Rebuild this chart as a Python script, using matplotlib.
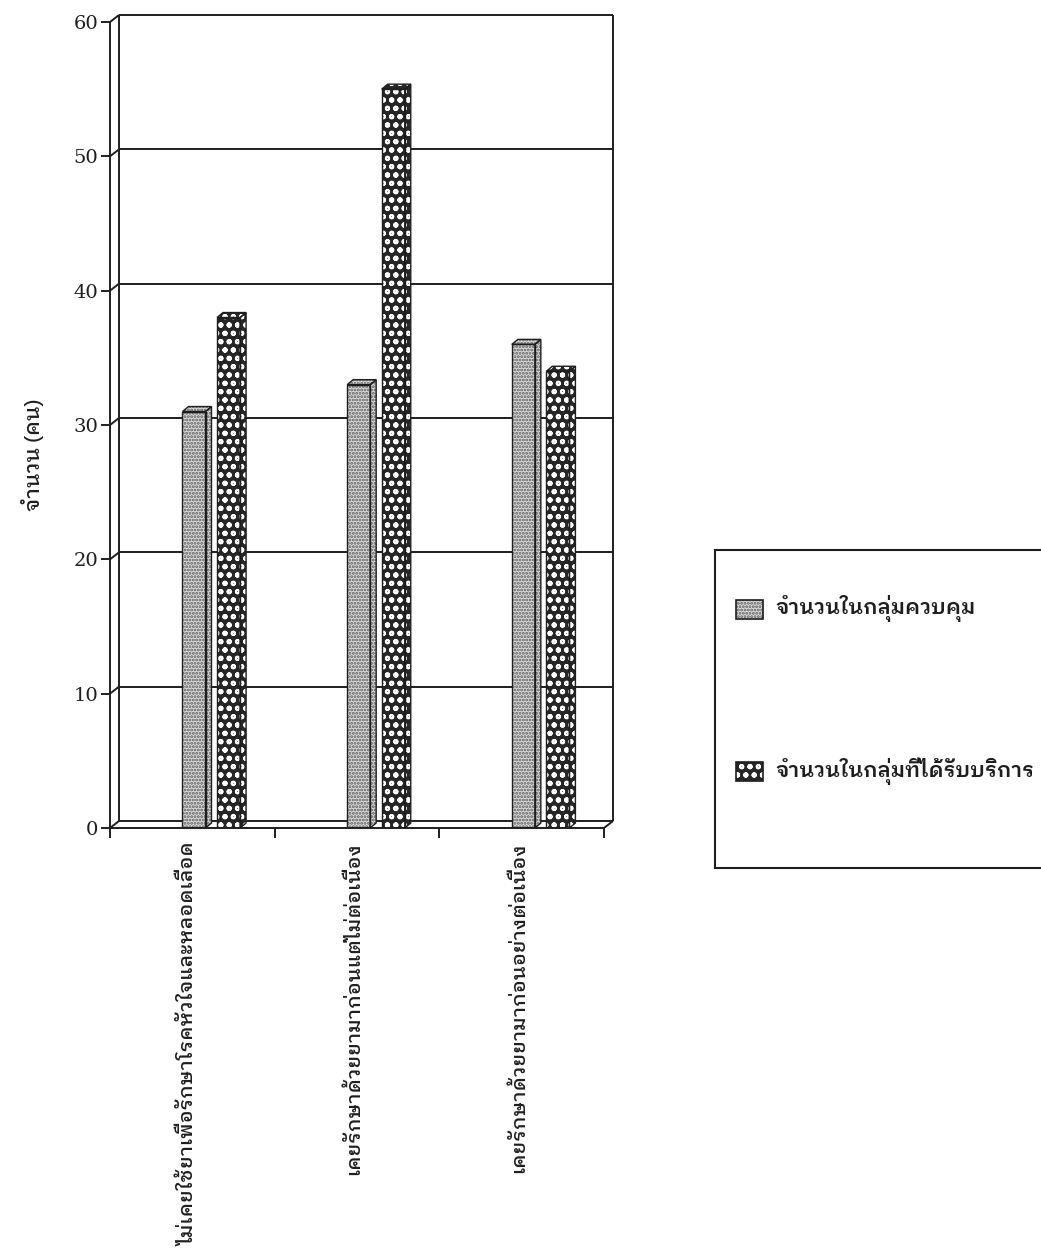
import matplotlib
matplotlib.use("Agg")
import matplotlib.pyplot as plt
from matplotlib.patches import Polygon, Rectangle

# ข้อมูล
categories = ["ไม่เคยใช้ยาเพื่อรักษาโรคหัวใจและหลอดเลือด",
              "เคยรักษาด้วยยามาก่อนแต่ไม่ต่อเนื่อง",
              "เคยรักษาด้วยยามาก่อนอย่างต่อเนื่อง"]
control = [31, 33, 36]
treated = [38, 55, 34]
series_names = ["จำนวนในกลุ่มควบคุม", "จำนวนในกลุ่มที่ได้รับบริการ"]
yticks = [0, 10, 20, 30, 40, 50, 60]
ylabel = "จำนวน (คน)"

thai = ["IBM Plex Sans Thai Looped", "DejaVu Sans"]
ink = "#1e1e1e"
plt.rcParams["hatch.linewidth"] = 1.4

W, H = 1041, 1252
fig = plt.figure(figsize=(W / 100, H / 100), dpi=100)
fig.patch.set_facecolor("white")

# พิกัดกรอบกราฟ (พิกเซล)
x0_px, x1_px = 110, 620
y0_px, y1_px = 828, 10
sx = (604 - 110) / 3.0           # px ต่อหนึ่งกลุ่ม
sy = (828 - 22) / 60.0           # px ต่อหนึ่งคน
ax = fig.add_axes([x0_px / W, 1 - y0_px / H, (x1_px - x0_px) / W, (y0_px - y1_px) / H])
ax.set_xlim(0, (x1_px - x0_px) / sx)
ax.set_ylim(0, (y0_px - y1_px) / sy)
ax.patch.set_visible(False)

# ความลึกของผนังหลังและของแท่ง
wdx, wdy = 9 / sx, 7 / sy
bdx, bdy = 6 / sx, 5 / sy
ncat = len(categories)
ymax = yticks[-1]
lw = 1.4

def seg(xs, ys, z=1):
    ax.plot(xs, ys, color=ink, lw=lw, solid_capstyle="butt", zorder=z, clip_on=False)

# ผนังหลังและเส้นกริด
seg([wdx, wdx], [wdy, ymax + wdy])
seg([ncat + wdx, ncat + wdx], [wdy, ymax + wdy])
seg([wdx, ncat + wdx], [ymax + wdy, ymax + wdy])
seg([wdx, ncat + wdx], [wdy, wdy])
seg([ncat, ncat + wdx], [0, wdy])
for v in yticks:
    seg([0, wdx], [v, v + wdy])
    if 0 < v < ymax:
        seg([wdx, ncat + wdx], [v + wdy, v + wdy])

# แกนหน้า
for s in ["top", "right"]:
    ax.spines[s].set_visible(False)
ax.spines["left"].set_bounds(0, ymax)
ax.spines["bottom"].set_bounds(0, ncat)
for s in ["left", "bottom"]:
    ax.spines[s].set_linewidth(lw)
    ax.spines[s].set_color(ink)
    ax.spines[s].set_zorder(6)

ax.set_yticks(yticks)
ax.set_yticklabels([str(v) for v in yticks], family="DejaVu Serif", fontsize=14, color=ink)
ax.tick_params(axis="y", direction="out", length=6.5, width=lw, color=ink, pad=2)
ax.set_xticks(range(ncat + 1))
ax.set_xticklabels([])
ax.tick_params(axis="x", which="major", direction="out", length=7, width=lw, color=ink)
ax.set_xticks([i + 0.48 for i in range(ncat)], categories, minor=True)
ax.tick_params(axis="x", which="minor", length=0, pad=10.5)
for t in ax.get_xticklabels(minor=True):
    t.set_rotation(90)
    t.set_va("top")
    t.set_family(thai)
    t.set_fontsize(14.5)
    t.set_weight("medium")
    t.set_color(ink)

ax.set_ylabel(ylabel, family=thai, fontsize=15, weight="medium", color=ink)
ax.yaxis.set_label_coords(-66 / (x1_px - x0_px), (828 - 455) / (y0_px - y1_px))

# ลวดลายของแต่ละชุดข้อมูล
styles = [
    dict(fc="#dcdcdc", hatch=".....", hc="#5a5a5a"),
    dict(fc="#262626", hatch="oo", hc="white"),
]
bw = 0.14
offsets = [0.51, 0.72]

def bar3d(x, v, st):
    xl, xr = x - bw / 2, x + bw / 2
    top = [(xl, v), (xl + bdx, v + bdy), (xr + bdx, v + bdy), (xr, v)]
    side = [(xr, 0), (xr + bdx, bdy), (xr + bdx, v + bdy), (xr, v)]
    for pts in (side, top):
        ax.add_patch(Polygon(pts, closed=True, fc=st["fc"], ec=st["hc"], hatch=st["hatch"],
                             lw=0, zorder=4, clip_on=False))
        ax.add_patch(Polygon(pts, closed=True, fill=False, ec=ink, lw=1.0, zorder=5, clip_on=False))

for vals, off, st in zip([control, treated], offsets, styles):
    xs = [i + off for i in range(ncat)]
    ax.bar(xs, vals, width=bw, color=st["fc"], edgecolor=st["hc"], hatch=st["hatch"],
           linewidth=0, zorder=4)
    ax.bar(xs, vals, width=bw, fill=False, edgecolor=ink, linewidth=1.0, zorder=5)
    for x, v in zip(xs, vals):
        bar3d(x, v, st)

# คำอธิบายสัญลักษณ์
lx0, lx1, ly0, ly1 = 715, 1060, 550, 868
lax = fig.add_axes([lx0 / W, 1 - ly1 / H, (lx1 - lx0) / W, (ly1 - ly0) / H])
lax.set_xlim(0, lx1 - lx0)
lax.set_ylim(ly1 - ly0, 0)
lax.set_xticks([])
lax.set_yticks([])
for s in ["left", "top", "bottom"]:
    lax.spines[s].set_linewidth(1.5)
    lax.spines[s].set_color(ink)
lax.spines["right"].set_visible(False)
for name, st, yc in zip(series_names, styles, [59, 221]):
    lax.add_patch(Rectangle((21, yc - 9.5), 27, 19, fc=st["fc"], ec=st["hc"], hatch=st["hatch"], lw=0))
    lax.add_patch(Rectangle((21, yc - 9.5), 27, 19, fill=False, ec=ink, lw=1.2))
    lax.text(60, yc, name, family=thai, fontsize=15, weight="semibold", color=ink, va="center", ha="left")

fig.savefig("out.png", dpi=100, facecolor="white")
